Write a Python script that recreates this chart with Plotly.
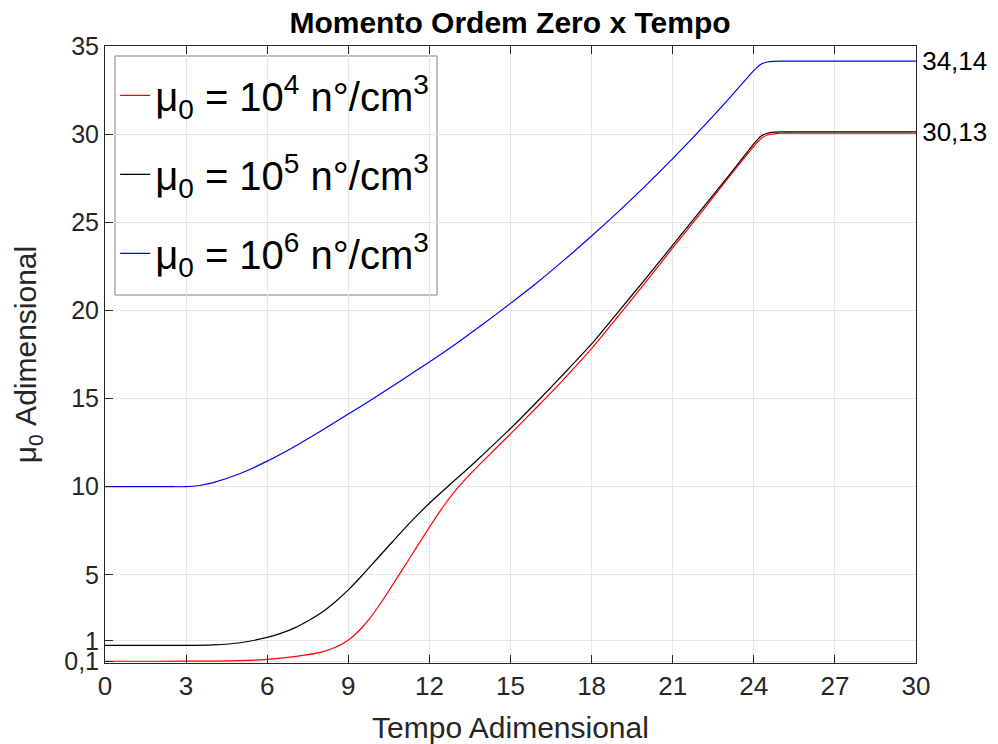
import plotly.graph_objects as go

# time points and curve values
t_red = [0, 2, 4, 5, 6, 7, 8, 8.5, 8.75, 9, 9.25, 9.5, 9.75, 10, 10.5, 11, 11.5, 12, 12.5, 13, 13.5, 14, 15, 16, 17, 18, 19, 20, 21, 22, 23, 24, 24.25, 24.5, 24.75, 25, 26, 28, 30]
v_red = [0.1, 0.1, 0.11, 0.13, 0.2, 0.36, 0.62, 0.88, 1.06, 1.3, 1.62, 2.0, 2.45, 2.95, 4.1, 5.3, 6.5, 7.7, 8.85, 9.85, 10.7, 11.48, 13.0, 14.55, 16.15, 17.83, 19.7, 21.6, 23.55, 25.45, 27.4, 29.3, 29.72, 29.95, 30.02, 30.05, 30.05, 30.05, 30.05]

t_black = [0, 2, 3, 4, 5, 6, 6.5, 7, 7.5, 8, 8.5, 9, 9.5, 10, 10.5, 11, 11.5, 12, 13, 13.5, 14, 15, 16, 17, 18, 19, 20, 21, 22, 23, 24, 24.25, 24.5, 24.75, 25, 26, 28, 30]
v_black = [1.0, 1.0, 1.0, 1.03, 1.15, 1.45, 1.68, 1.98, 2.38, 2.85, 3.45, 4.15, 4.95, 5.8, 6.65, 7.5, 8.3, 9.06, 10.45, 11.13, 11.85, 13.3, 14.85, 16.45, 18.1, 19.95, 21.8, 23.7, 25.6, 27.5, 29.45, 29.87, 30.05, 30.11, 30.13, 30.13, 30.13, 30.13]

t_blue = [0, 2, 2.5, 3, 3.5, 4, 5, 6, 7, 8, 9, 10, 11, 12, 13, 14, 15, 16, 17, 18, 19, 20, 21, 22, 23, 24, 24.25, 24.5, 24.75, 25, 26, 28, 30]
v_blue = [10.0, 10.0, 10.0, 10.0, 10.07, 10.23, 10.75, 11.45, 12.27, 13.17, 14.12, 15.08, 16.07, 17.08, 18.13, 19.24, 20.4, 21.6, 22.88, 24.22, 25.62, 27.08, 28.61, 30.21, 31.87, 33.6, 33.95, 34.09, 34.13, 34.14, 34.14, 34.14, 34.14]

names = ["μ<sub>0</sub> = 10<sup>4</sup> n°/cm<sup>3</sup>",
         "μ<sub>0</sub> = 10<sup>5</sup> n°/cm<sup>3</sup>",
         "μ<sub>0</sub> = 10<sup>6</sup> n°/cm<sup>3</sup>"]
colors = ["#ff0000", "#000000", "#0000ff"]

x_ticks = [0, 3, 6, 9, 12, 15, 18, 21, 24, 27, 30]
y_tickvals = [0.1, 1.25, 5, 10, 15, 20, 25, 30, 35]
y_ticktext = ["0,1", "1", "5", "10", "15", "20", "25", "30", "35"]
right_tickvals = [34.14, 30.13]
right_ticktext = ["34,14", "30,13"]

FONT = "Liberation Sans, Arial, Helvetica, sans-serif"

fig = go.Figure()
for i, (tx, vy, nm, c) in enumerate(zip([t_red, t_black, t_blue], [v_red, v_black, v_blue], names, colors)):
    fig.add_trace(go.Scatter(x=tx, y=vy, mode="lines", name=nm, legendgroup=f"g{i}",
                             line=dict(color=c, width=1.2, shape="spline", smoothing=0.7)))

# dummy trace to anchor the right axis
fig.add_trace(go.Scatter(x=[30], y=[34.14], yaxis="y2", mode="lines",
                         showlegend=False, hoverinfo="skip", line=dict(color="rgba(0,0,0,0)")))

# legend frame (drawn as a paper-referenced box behind the legend entries)
fig.add_shape(type="rect", xref="paper", yref="paper", x0=0.0123, x1=0.4094, y0=0.5964, y1=0.9838,
              line=dict(color="#808080", width=1), fillcolor="white", layer="below")

fig.update_layout(
    width=998, height=744,
    margin=dict(l=105, r=82, t=46, b=81, autoexpand=False),
    paper_bgcolor="white", plot_bgcolor="white",
    font=dict(family=FONT, size=25, color="#262626"),
    title=dict(text="<b>Momento Ordem Zero x Tempo</b>", x=0.511, xanchor="center",
               y=0.970, yanchor="middle", font=dict(size=30, color="black")),
    xaxis=dict(range=[0, 30], tickvals=x_ticks, ticks="inside", ticklen=8, automargin=False,
               tickcolor="#262626", showline=True, linecolor="#262626", linewidth=1,
               mirror="ticks", showgrid=True, gridcolor="#e6e6e6", gridwidth=1,
               zeroline=False, tickfont=dict(size=26, color="#262626"),
               title=dict(text="Tempo Adimensional", font=dict(size=30, color="#262626"), standoff=17)),
    yaxis=dict(range=[0, 35], tickvals=y_tickvals, ticktext=y_ticktext, ticks="inside",
               ticklen=8, tickcolor="#262626", showline=True, linecolor="#262626", automargin=False,
               linewidth=1, mirror=False, showgrid=True, gridcolor="#e6e6e6",
               gridwidth=1, zeroline=False, tickfont=dict(size=25, color="#262626"),
               title=dict(text="μ<sub>0</sub> Adimensional", font=dict(size=30, color="#262626"), standoff=18)),
    yaxis2=dict(range=[0, 35], overlaying="y", side="right", tickvals=right_tickvals,
                ticktext=right_ticktext, ticks="", showline=True, linecolor="#262626",
                linewidth=1, showgrid=False, zeroline=False, automargin=False,
                tickfont=dict(size=26, color="black")),
    legend=dict(x=0.0125, y=0.9727, xanchor="left", yanchor="top",
                bgcolor="rgba(0,0,0,0)", borderwidth=0,
                font=dict(size=40, color="black"), itemwidth=30, tracegroupgap=24),
    showlegend=True,
)

fig.write_html("out.html")
